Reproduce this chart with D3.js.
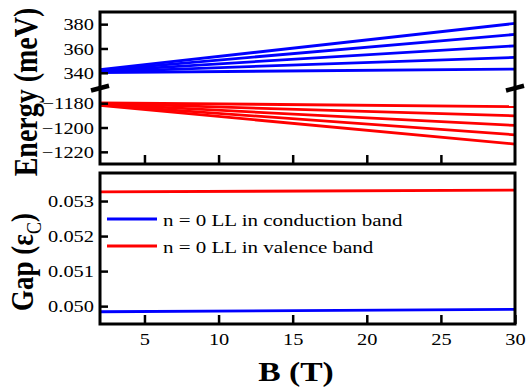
<!DOCTYPE html>
<html><head><meta charset="utf-8">
<script src="https://cdn.jsdelivr.net/npm/d3@7"></script>
<style>body{margin:0;background:#fff}svg{display:block}svg text{font-family:"Liberation Serif","Times New Roman",serif !important;fill:#000}</style>
</head><body><svg id="c" width="526" height="389"></svg>
<script>
// ---- data ----
const B = [2, 30];
const blueLevels = [
  [342.6, 380.6],
  [342.0, 371.6],
  [341.4, 362.2],
  [340.8, 352.7],
  [340.2, 343.1]
];
const redLevels = [
  [-1179.7, -1182.8],
  [-1180.2, -1190.4],
  [-1180.8, -1198.3],
  [-1181.3, -1206.0],
  [-1181.8, -1213.6]
];
const gapValence = [0.05326, 0.05331];
const gapConduction = [0.04984, 0.04991];
const xTicks = [5, 10, 15, 20, 25, 30];
const upperTicks = [340, 360, 380];
const lowerTicks = [-1220, -1200, -1180];
const gapTicks = [0.050, 0.051, 0.052, 0.053];
const legendLabels = ["n = 0 LL in conduction band", "n = 0 LL in valence band"];

// ---- layout ----
const L = 100, R = 515;
const topY0 = 12, breakY = 88, topY1 = 164;
const gY0 = 173, gY1 = 324;
const SX = 1.2; // horizontal stretch of glyphs
const FONT = '"Liberation Serif","Times New Roman",serif';
const svg = d3.select("#c");

const x = d3.scaleLinear().domain([2, 30]).range([L, R]);
const yU = d3.scaleLinear().domain([327.5, 390]).range([breakY, topY0]);
const yL = d3.scaleLinear().domain([-1230, -1167.5]).range([topY1, breakY]);
const yG = d3.scaleLinear().domain([0.04949, 0.0538]).range([gY1, gY0]);

function styleAxis(g, textFix) {
  g.attr("font-family", null).attr("font-size", null);
  g.select(".domain").remove();
  g.selectAll(".tick line").attr("stroke", "#000").attr("stroke-width", 2.5);
  g.selectAll(".tick text").attr("font-size", 17).style("font-family", FONT).style("font-size", "17px");
  if (textFix) textFix(g.selectAll(".tick text"));
}
function leftText(sel) {
  sel.attr("x", -6 / SX).attr("transform", `scale(${SX},1)`).attr("dy", "0.34em");
}

// data lines
const line = (ys, yScale) => d3.line().x((d, i) => x(B[i])).y(d => yScale(d))(ys);
svg.append("g").selectAll("path").data(blueLevels).join("path")
  .attr("d", d => line(d, yU)).attr("fill", "none").attr("stroke", "#0000ff").attr("stroke-width", 2.8);
svg.append("g").selectAll("path").data(redLevels).join("path")
  .attr("d", d => line(d, yL)).attr("fill", "none").attr("stroke", "#ff0000").attr("stroke-width", 2.8);
svg.append("path").attr("d", line(gapValence, yG)).attr("fill", "none").attr("stroke", "#ff0000").attr("stroke-width", 2.8);
svg.append("path").attr("d", line(gapConduction, yG)).attr("fill", "none").attr("stroke", "#0000ff").attr("stroke-width", 2.8);

// axes top panel
svg.append("g").attr("transform", `translate(${L},0)`)
  .call(d3.axisLeft(yU).tickValues(upperTicks).tickSize(-8).tickPadding(6).tickFormat(d3.format("d")))
  .call(g => styleAxis(g, leftText));
svg.append("g").attr("transform", `translate(${L},0)`)
  .call(d3.axisLeft(yL).tickValues(lowerTicks).tickSize(-8).tickPadding(6).tickFormat(d3.format("d")))
  .call(g => styleAxis(g, leftText));
svg.append("g").attr("transform", `translate(0,${topY1})`)
  .call(d3.axisBottom(x).tickValues(xTicks.filter(v => v < 30)).tickSize(-9).tickFormat(""))
  .call(g => styleAxis(g));

// axes gap panel
svg.append("g").attr("transform", `translate(${L},0)`)
  .call(d3.axisLeft(yG).tickValues(gapTicks).tickSize(-8).tickPadding(6).tickFormat(d3.format(".3f")))
  .call(g => styleAxis(g, leftText));
svg.append("g").attr("transform", `translate(0,${gY1})`)
  .call(d3.axisBottom(x).tickValues(xTicks).tickSize(-9).tickPadding(9).tickFormat(d3.format("d")))
  .call(g => styleAxis(g, sel => sel.attr("transform", `scale(${SX},1)`)));

// frames
svg.append("rect").attr("x", L).attr("y", topY0).attr("width", R - L).attr("height", topY1 - topY0)
  .attr("fill", "none").attr("stroke", "#000").attr("stroke-width", 3);
svg.append("rect").attr("x", L).attr("y", gY0).attr("width", R - L).attr("height", gY1 - gY0)
  .attr("fill", "none").attr("stroke", "#000").attr("stroke-width", 3);

// break marks
[L, R].forEach(bx => {
  svg.append("line").attr("x1", bx - 9).attr("y1", breakY + 2.5).attr("x2", bx + 9).attr("y2", breakY - 2.2)
    .attr("stroke", "#000").attr("stroke-width", 4.5);
});

// legend
const legColors = ["#0000ff", "#ff0000"];
legendLabels.forEach((lab, i) => {
  const ly = 219 + i * 27;
  svg.append("line").attr("x1", 107).attr("x2", 157).attr("y1", ly).attr("y2", ly)
    .attr("stroke", legColors[i]).attr("stroke-width", 2.8);
  svg.append("text").attr("transform", `translate(163,${ly + 7}) scale(${SX},1)`)
    .attr("font-size", 17.5).text(lab);
});

// axis titles
svg.append("text").attr("transform", `translate(37,92) scale(${SX},1) rotate(-90)`)
  .attr("text-anchor", "middle").attr("font-size", 28).attr("font-weight", "bold").text("Energy (meV)");
const gt = svg.append("text").attr("transform", `translate(33,262) scale(${SX},1) rotate(-90)`)
  .attr("text-anchor", "middle").attr("font-size", 27).attr("font-weight", "bold");
gt.append("tspan").text("Gap (ε");
gt.append("tspan").attr("font-size", 18).attr("font-weight", "normal").attr("dy", 7).text("C");
gt.append("tspan").attr("dy", -7).text(")");
svg.append("text").attr("transform", `translate(296,381) scale(${SX},1)`)
  .attr("text-anchor", "middle").attr("font-size", 28).attr("font-weight", "bold").text("B (T)");
</script></body></html>
